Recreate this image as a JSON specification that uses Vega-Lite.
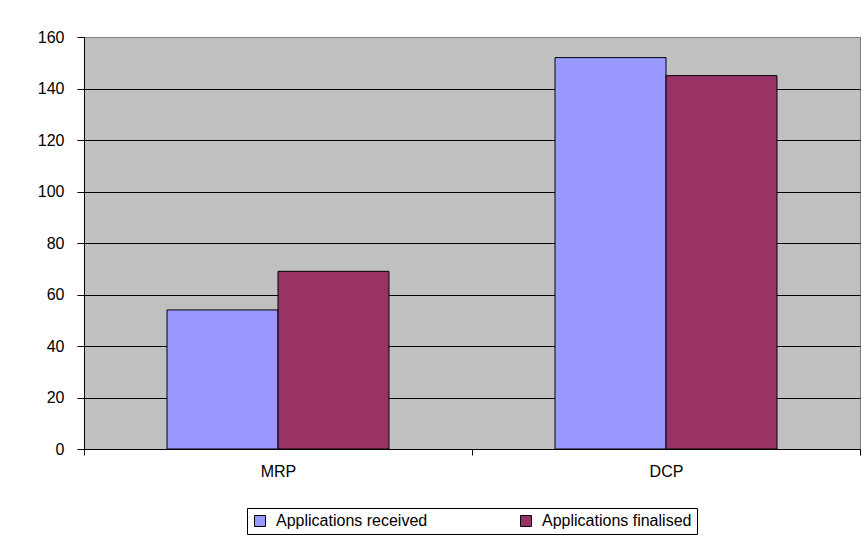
{
  "$schema": "https://vega.github.io/schema/vega-lite/v6.json",
  "autosize": {"type": "none"},
  "width": 776,
  "height": 412,
  "padding": {"left": 84, "top": 37, "right": 4, "bottom": 92},
  "background": "white",
  "data": {
    "values": [
      {"program": "MRP", "series": "Applications received", "value": 54},
      {"program": "MRP", "series": "Applications finalised", "value": 69},
      {"program": "DCP", "series": "Applications received", "value": 152},
      {"program": "DCP", "series": "Applications finalised", "value": 145}
    ]
  },
  "mark": {"type": "bar", "stroke": "black", "strokeWidth": 1},
  "encoding": {
    "x": {
      "field": "program",
      "type": "nominal",
      "sort": ["MRP", "DCP"],
      "scale": {"paddingInner": 0, "paddingOuter": 0},
      "axis": {
        "title": null,
        "labelAngle": 0,
        "tickBand": "extent",
        "tickSize": 6,
        "tickColor": "black",
        "domainColor": "black",
        "labelFontSize": 16,
        "labelFont": "Liberation Sans",
        "labelColor": "black",
        "labelPadding": 8
      }
    },
    "xOffset": {
      "field": "series",
      "type": "nominal",
      "sort": ["Applications received", "Applications finalised"],
      "scale": {"paddingInner": 0, "paddingOuter": 0.748}
    },
    "y": {
      "field": "value",
      "type": "quantitative",
      "scale": {"domain": [0, 160], "nice": false},
      "axis": {
        "title": null,
        "values": [0, 20, 40, 60, 80, 100, 120, 140, 160],
        "tickSize": 7,
        "tickColor": "black",
        "domainColor": "black",
        "gridColor": {"condition": {"test": "datum.value == 160", "value": "#808080"}, "value": "black"},
        "gridOpacity": 1,
        "labelFontSize": 16,
        "labelFont": "Liberation Sans",
        "labelColor": "black",
        "labelPadding": 13
      }
    },
    "fill": {
      "field": "series",
      "type": "nominal",
      "sort": ["Applications received", "Applications finalised"],
      "scale": {
        "domain": ["Applications received", "Applications finalised"],
        "range": ["#9999FF", "#993366"]
      },
      "legend": {
        "title": null,
        "orient": "none",
        "legendX": 163,
        "legendY": 471,
        "direction": "horizontal",
        "strokeColor": "black",
        "padding": 5,
        "symbolType": "square",
        "symbolSize": 120,
        "symbolStrokeColor": "black",
        "symbolStrokeWidth": 1,
        "labelFontSize": 16,
        "labelFont": "Liberation Sans",
        "labelColor": "black",
        "columnPadding": 90,
        "labelOffset": 8
      }
    }
  },
  "config": {
    "view": {"fill": "#C0C0C0", "stroke": "#808080"},
    "axis": {"grid": false},
    "axisY": {"grid": true}
  }
}
